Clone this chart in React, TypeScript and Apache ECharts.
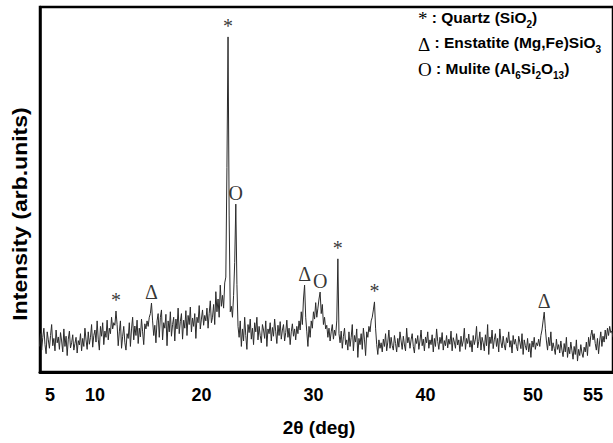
import React, { useEffect, useRef } from "react";
import * as echarts from "echarts";

// 2θ sampling of the measured pattern
const thetaStart = 5.4;
const thetaStep = 0.1;

// Intensity (arb. units), one row per degree (x.4 .. x+1.3)
const intensity: number[] = [
  70, 105, 60, 95, 120, 75, 50, 110, 88, 65,
  100, 130, 72, 92, 58, 115, 80, 96, 62, 108,
  85, 55, 118, 70, 98, 45, 90, 112, 66, 80,
  102, 60, 78, 95, 52, 86, 74, 105, 58, 92,
  70, 120, 88, 62, 110, 76, 95, 130, 68, 100,
  115, 82, 140, 90, 60, 125, 98, 135, 75, 112,
  95, 142, 88, 120, 105, 150, 118, 135, 128, 167,
  130, 72, 110, 140, 65, 98, 125, 80, 60, 105,
  92, 135, 70, 118, 150, 88, 126, 100, 142, 78,
  120, 96, 145, 110, 75, 132, 118, 140, 125, 150,
  160, 189, 140, 100, 128, 80, 140, 160, 95, 150,
  170, 88, 135, 120, 158, 72, 140, 110, 165, 98,
  130, 150, 85, 145, 118, 175, 105, 138, 160, 90,
  142, 120, 168, 100, 155, 130, 178, 110, 148, 125,
  160, 92, 150, 135, 182, 118, 145, 170, 128, 155,
  140, 175, 120, 160, 195, 135, 150, 185, 130, 220,
  165, 200, 150, 238, 180, 210, 175, 244, 260, 560,
  918, 430, 165, 180, 150, 210, 300, 460, 240, 125,
  95, 140, 70, 118, 85, 150, 100, 62, 130, 108,
  145, 90, 120, 75, 135, 110, 150, 88, 125, 100,
  80, 130, 115, 92, 140, 70, 118, 105, 135, 85,
  122, 98, 145, 110, 78, 128, 100, 138, 90, 115,
  130, 85, 108, 142, 95, 120, 75, 110, 132, 98,
  118, 88, 125, 105, 140, 115, 165, 130, 200, 238,
  150, 110, 70, 125, 95, 140, 120, 165, 145, 190,
  150, 175, 200, 219, 160, 185, 130, 150, 118, 128,
  95, 120, 85, 110, 130, 90, 115, 100, 140, 310,
  105, 80, 112, 65, 98, 120, 75, 88, 60, 110,
  70, 95, 130, 58, 100, 82, 118, 40, 92, 75,
  105, 62, 120, 88, 45, 110, 95, 125, 110, 140,
  150, 170, 192, 120, 75, 48, 88, 65, 80, 55,
  90, 70, 105, 58, 82, 115, 65, 95, 72, 60,
  100, 78, 55, 92, 68, 110, 85, 62, 98, 74,
  58, 120, 80, 95, 65, 88, 105, 70, 52, 92,
  78, 100, 62, 85, 115, 72, 90, 58, 96, 80,
  110, 65, 88, 75, 102, 55, 92, 70, 118, 84,
  62, 95, 78, 108, 60, 86, 72, 100, 66, 90,
  76, 112, 58, 94, 82, 65, 105, 74, 88, 56,
  98, 70, 85, 120, 62, 92, 78, 104, 68, 86,
  55, 100, 75, 90, 125, 66, 84, 110, 60, 95,
  80, 58, 102, 72, 130, 48, 96, 78, 115, 64,
  88, 105, 70, 92, 55, 118, 82, 66, 98, 74,
  60, 94, 80, 110, 68, 86, 52, 100, 76, 90,
  70, 58, 98, 82, 64, 105, 48, 88, 72, 60,
  92, 55, 78, 40, 85, 68, 95, 62, 80, 72,
  90, 70, 100, 115, 140, 164, 120, 85, 60, 95,
  72, 110, 58, 80, 65, 48, 90, 62, 75, 52,
  85, 60, 42, 78, 55, 95, 40, 68, 50, 82,
  58, 35, 70, 48, 88, 30, 62, 45, 75, 52,
  40, 68, 55, 82, 45, 95, 70, 100, 115, 88,
  105, 78, 60, 92, 50, 85, 110, 70, 98, 82,
  115, 90, 120, 100, 125, 108, 112, 95,
];

// Identified peaks
const peakTheta = [12.3, 15.5, 22.4, 23.1, 29.3, 30.7, 32.3, 35.6, 50.9];
const peakHeight = [167, 189, 918, 460, 238, 219, 310, 192, 164];
const peakSymbol = ["*", "Δ", "*", "O", "Δ", "O", "*", "*", "Δ"];

// Axis tick labels (positions as printed on the original figure)
const tickPositions = [6.35, 10.4, 20, 30.1, 40.2, 49.9, 55.3];
const tickLabels = ["5", "10", "20", "30", "40", "50", "55"];

// Legend lines
const legendSymbols = ["*", "Δ", "O"];
const legendTexts = [
  "{t| : Quartz (SiO}{s|2}{t|)}",
  "{t| : Enstatite (Mg,Fe)SiO}{s|3}",
  "{t| : Mulite (Al}{s|6}{t|Si}{s|2}{t|O}{s|13}{t|)}",
];

const SANS = '"Liberation Sans", Arial, sans-serif';
const SERIF = '"Liberation Serif", "Times New Roman", serif';

export default function App() {
  const ref = useRef<HTMLDivElement>(null);

  useEffect(() => {
    if (!ref.current) return;
    const chart = echarts.init(ref.current, null, { renderer: "svg" });
    const lineData = intensity.map((v, i) => [
      +(thetaStart + i * thetaStep).toFixed(2),
      v,
    ]);
    const peakData = peakTheta.map((t, i) => [t, peakHeight[i]]);

    const option: any = {
      animation: false,
      backgroundColor: "#fff",
      grid: {
        left: 40,
        right: -3,
        top: 7,
        bottom: 71,
        show: true,
        borderColor: "#000",
        borderWidth: 2.5,
      },
      xAxis: {
        type: "value",
        min: 5.45,
        max: 57.1,
        axisLine: { show: true, lineStyle: { color: "#000", width: 3 } },
        axisTick: { show: false },
        splitLine: { show: false },
        axisLabel: {
          customValues: tickPositions,
          formatter: (v: number) => {
            const i = tickPositions.findIndex((p) => Math.abs(p - v) < 1e-6);
            return i >= 0 ? tickLabels[i] : "";
          },
          color: "#000",
          fontFamily: SANS,
          fontWeight: "bold",
          fontSize: 18,
          margin: 14,
        },
      },
      yAxis: {
        type: "value",
        min: 0,
        max: 1000,
        axisLine: { show: true, lineStyle: { color: "#000", width: 2.5 } },
        axisTick: { show: false },
        axisLabel: { show: false },
        splitLine: { show: false },
      },
      series: [
        {
          type: "line",
          data: lineData,
          showSymbol: false,
          silent: true,
          lineStyle: { color: "#2b2b2b", width: 1 },
        },
        {
          type: "scatter",
          data: peakData,
          symbolSize: 0,
          silent: true,
          z: 5,
          label: {
            show: true,
            position: "top",
            distance: 1,
            formatter: (p: any) => peakSymbol[p.dataIndex],
            color: "#000",
            fontFamily: SERIF,
            fontSize: 20,
          },
        },
      ],
      graphic: [
        {
          type: "text",
          x: 20,
          y: 214,
          rotation: Math.PI / 2,
          scaleX: 1.15,
          style: {
            text: "Intensity (arb.units)",
            font: `bold 20px ${SANS}`,
            fill: "#000",
            align: "center",
            verticalAlign: "middle",
          },
        },
        {
          type: "text",
          x: 319,
          y: 427,
          style: {
            text: "2θ (deg)",
            font: `bold 19px ${SANS}`,
            fill: "#000",
            align: "center",
            verticalAlign: "middle",
          },
        },
        ...legendTexts.map((t, i) => ({
          type: "text",
          x: 418,
          y: 9 + i * 25.5,
          style: {
            text: `{m|${legendSymbols[i]}}` + t,
            fill: "#000",
            rich: {
              m: {
                fontFamily: SERIF,
                fontSize: 19,
                lineHeight: 20,
                verticalAlign: "top",
                fill: "#000",
              },
              t: {
                fontFamily: SANS,
                fontWeight: "bold",
                fontSize: 15.5,
                lineHeight: 20,
                verticalAlign: "top",
                fill: "#000",
              },
              s: {
                fontFamily: SANS,
                fontWeight: "bold",
                fontSize: 10,
                lineHeight: 11,
                padding: [10, 0, 0, 0],
                verticalAlign: "bottom",
                fill: "#000",
              },
            },
          },
        })),
      ],
    };
    chart.setOption(option);
    return () => chart.dispose();
  }, []);

  return (
    <div
      ref={ref}
      style={{ position: "absolute", left: 0, top: 0, width: 613, height: 443 }}
    />
  );
}
